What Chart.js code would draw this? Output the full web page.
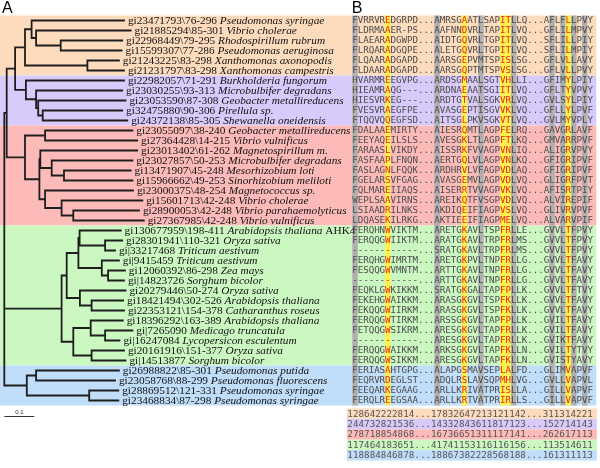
<!DOCTYPE html>
<html><head><meta charset="utf-8">
<script src="https://cdn.jsdelivr.net/npm/chart.js@4/dist/chart.umd.min.js"></script>
<style>html,body{margin:0;padding:0;background:#fff;}canvas{display:block;}</style>
</head><body>
<canvas id="c" width="600" height="468"></canvas>
<script>
// ---------- data ----------
const leafIds = [
 'gi23471793\\76-296','gi21885294\\85-301','gi22968449\\79-295','gi15599307\\77-286','gi21243225\\83-298','gi21231797\\83-298',
 'gi22982057\\71-291','gi23030255\\93-313','gi23053590\\87-308','gi32475880\\90-306','gi24372138\\85-305',
 'gi23055097\\38-240','gi27364428\\14-215','gi23013402\\61-262','gi23027857\\50-253','gi13471907\\45-248','gi15966662\\49-253','gi23000375\\48-254','gi15601713\\42-248','gi28900053\\42-248','gi27367985\\42-248',
 'gi130677959\\198-411','gi28301941\\110-321','gi|33217468','gi|9415459','gi12060392\\86-298','gi|14823726','gi20279446\\50-274','gi18421494\\302-526','gi22353121\\154-378','gi18396292\\163-389','gi|7265090','gi|16247084','gi20161916\\151-377','gi|14513877',
 'gi26988822\\85-301','gi23058768\\88-299','gi28869512\\121-331','gi23468834\\87-298'
];
const leafSpecies = [
 'Pseudomonas syringae','Vibrio cholerae','Rhodospirillum rubrum','Pseudomonas aeruginosa','Xanthomonas axonopodis','Xanthomonas campestris',
 'Burkholderia fungorum','Microbulbifer degradans','Geobacter metallireducens','Pirellula sp.','Shewanella oneidensis',
 'Geobacter metallireducens','Vibrio vulnificus','Magnetospirillum m.','Microbulbifer degradans','Mesorhizobium loti','Sinorhizobium meliloti','Magnetococcus sp.','Vibrio cholerae','Vibrio parahaemolyticus','Vibrio vulnificus',
 'Arabidopsis thaliana','Oryza sativa','Triticum aestivum','Triticum aestivum','Zea mays','Sorghum bicolor','Oryza sativa','Arabidopsis thaliana','Catharanthus roseus','Arabidopsis thaliana','Medicago truncatula','Lycopersicon esculentum','Oryza sativa','Sorghum bicolor',
 'Pseudomonas putida','Pseudomonas fluorescens','Pseudomonas syringae','Pseudomonas syringae'
];
const leafExtra = leafSpecies.map((s, i) => i === 21 ? ' AHK4' : '');
const tipDepth = [
 0.402,0.424,0.396,0.394,0.385,0.402,
 0.402,0.396,0.407,0.396,0.413,
 0.430,0.446,0.446,0.430,0.424,0.430,0.432,0.463,0.452,0.468,
 0.391,0.396,0.372,0.385,0.405,0.402,0.407,0.399,0.402,0.398,0.430,0.387,0.402,0.407,
 0.385,0.372,0.383,0.383
];
const nodeChildren = [
 ['L2','L3'],['L1','N0'],['L0','N1'],['L4','L5'],['N2','N3'],
 ['L9','L10'],['L8','N5'],['L7','N6'],['L6','N7'],['N4','N8'],
 ['L11','L12'],['L15','L16'],['L14','N11'],['L13','N12'],['L19','L20'],['L18','N14'],['L17','N15'],['N13','N16'],['N10','N17'],['N9','N18'],
 ['L22','L23'],['L21','N20'],['L25','L26'],['L24','N22'],['N21','N23'],['L28','L29'],['L27','N25'],['N24','N26'],
 ['L31','L32'],['L30','N28'],['L33','L34'],['N29','N30'],['N27','N31'],
 ['L35','L36'],['L37','L38'],['N33','N34'],
 ['N19','N32','N35']
];
const nodeDepth = [
 0.188,0.106,0.091,0.277,0.069,
 0.128,0.113,0.106,0.072,0.036,
 0.136,0.199,0.158,0.120,0.230,0.191,0.136,0.117,0.069,0.008,
 0.336,0.251,0.346,0.325,0.247,0.291,0.252,0.208,
 0.336,0.288,0.291,0.230,0.191,
 0.106,0.283,0.075,
 0
];
const groupSizes = [6,5,10,14,4];
const groupColors = ['#fddbbd','#d8cbfb','#fcbbb9','#cbf7c1','#c0ddf9'];
const alignment = [
 'FVRRVREDGRPD...AMRSGAATLSAPITLLQ...AFLFLLPVY',
 'FLDRMAAER-PS...AAFNNDVRLTAPITLVQ...GFLILMPVY',
 'FLAEARADGWPD...AIDTGQVRLTGPITLVQ...SFLILLPIY',
 'FLRQARADGQPE...ALETGQVRLTGPITLVQ...SFLILMPIY',
 'FLQAARADGAPD...AARSGEPVMTSPISLSG...GFLVLLAVY',
 'FLDAARADGAPD...AARSGQPTMTSPVSLSG...GFLVLLPVY',
 'HVARMREEGVPG...ARDSGMAALSGTVHLLI...GFIMYLPIY',
 'HIEAMRAQG---...ARDNAEAATSGIITLVQ...GFLTYVPVY',
 'HIESVRKEG---...ARDTGTVALSGKVRLVQ...GVLSYLPIY',
 'FVESVRAEGFPE...AVASGEPTISGVVKLVQ...GFLLYLPVF',
 'FTQQVQQEGFSD...AITSGLPKVSGKVTLVQ...GVLMYVPLY',
 'FDALAAEMIRTY...AIESRQMTLAGPFELRQ...GAVGRLAVF',
 'FEEYAQEILSLS...AVESGKLTLAGPFTLKQ...GMVARRPVF',
 'FARAASLVIKDY...AISSRKFVVAGPVNLIQ...ALIGRVPVY',
 'FASFAAPLFNQN...AERTGQLVLAGPVNLKQ...GFIGRIPVF',
 'FASLAGNLFQQK...ARDHRVLVFAGPVDLAQ...GFIGRIPVF',
 'FGELARSVFGAG...AVASGEMVLAGPVDLVQ...GLIGRFPVT',
 'FQLMAREIIAQS...AISERRTVVAGPVKLVQ...AFISRTPIY',
 'WEPLSAAVIRNS...AREIKQTFVSGPVDLVQ...ALVIREPIF',
 'LSIAADRILNKS...AKDIQEIFIAGPVSLVQ...GLIVRVPVF',
 'LDQASEKILRKG...AKTIEEIFIAGPMELVQ...ALVARVPIF',
 'FERQHNWVIKTM...ARETGKAVLTSPFRLLE...GVVLTFPVY',
 'FERQQGWIIKTM...ARATGKAVLTRPFRLMS...GVVLTFPVY',
 '------------...SRATGKAVLTRPFRLMS...GVVLTFPVY',
 'FERQHGWIMRTM...ARETGKPVLTNPFRLLG...GVVLTFAVY',
 'FESQQGWVMNTM...ARTTGKAVLTNPFRLLG...GVVLTFAVY',
 '------------...ARTTGKAVLTNPFRLLG...GVVLTFAVY',
 'FEQKLGWKIKKM...SRATGKGALTAPFPLLK...GVVLTFTVY',
 'FEKEHGWAIKKM...ARASGKGVLTSPFKLLK...GVVLTFAVY',
 'FEKQQGWIIRKM...ARASGKGVLTSPFKLLK...GVVLTFAVY',
 'FERQQGWTIRKM...ARSSGKGVLTAPFPLLK...GVILTFAVY',
 'FETQQGWSIKRM...ARESGKGVLTAPFRLLK...GVILTFAVY',
 '------------...ARESGKGVLTAPFRLLK...GVIKTFAVY',
 'FERQQGWAIKKM...ARKSGKGVLTAPFKLLN...GVILTYTVY',
 'FERQQGWSIKKM...ARESGKGVLTAPFKLLN...GVISTYAVY',
 'FERIASAHTGPG...ALAPGSMAVSEPLALFD...GLIMVAPVF',
 'FEQRVRDEGLST...ADQLRSLAVSQPMHLVG...GVLLVAPVL',
 'FEEQARKEGAAG...ARLLKRIVATPRISLLA...GILLVAPVF',
 'FERQLREEGSAA...ARLLKRTVATPRIRLLS...GILLVAPVF'
];
const grayCols = [0,15,23,29,36,38,40,42];
const yellowCols = [6,20,27,28,39];
const conservation = [
 '128642222814...17832647213121142...311314221',
 '244732821536...14332843611817123...152714143',
 '278718854868...16736651311117141...262617113',
 '117464183651...41741153116116156...113514611',
 '118884846878...18867382228568188...161311113'
];
const scaleBarLength = 0.1;
const scaleBarLabel = '0.1';

// ---------- tree geometry from data ----------
const pos = {};
leafIds.forEach((_, i) => { pos['L' + i] = { d: tipDepth[i], y: i }; });
nodeChildren.forEach((ch, k) => {
  const ys = ch.map(c => pos[c].y);
  pos['N' + k] = { d: nodeDepth[k], y: (ys[0] + ys[ys.length - 1]) / 2 };
});
const lineBase = { type: 'scatter', showLine: true, pointRadius: 0, borderColor: '#1e1e1e', borderWidth: 1.8,
  fill: false, tension: 0, borderJoinStyle: 'miter', borderCapStyle: 'butt', xAxisID: 'x', yAxisID: 'y', clip: false };
const datasets = [];
nodeChildren.forEach((ch, k) => {
  const n = pos['N' + k], a = pos[ch[0]], b = pos[ch[ch.length - 1]];
  datasets.push({ ...lineBase, data: [{ x: a.d, y: a.y }, { x: n.d, y: a.y }, { x: n.d, y: b.y }, { x: b.d, y: b.y }] });
  ch.slice(1, -1).forEach(c => {
    const m = pos[c];
    datasets.push({ ...lineBase, data: [{ x: n.d, y: m.y }, { x: m.d, y: m.y }] });
  });
});
const nRows = leafIds.length;
const scaleBarRow = nRows + 0.6;
datasets.push({ ...lineBase, borderWidth: 1, borderColor: '#333', data: [{ x: 0, y: scaleBarRow }, { x: scaleBarLength, y: scaleBarRow }] });

// ---------- drawing plugin (text, bands, column shading) ----------
const MONO = '"DejaVu Sans Mono", "Liberation Mono", monospace';
const SERIF = '"Liberation Serif", "Times New Roman", serif';
const LABEL_PX = 11.3;
const plugin = {
  id: 'figure',
  beforeDatasetsDraw(chart) {
    const ctx = chart.ctx, y = chart.scales.y, xa = chart.scales.xa;
    ctx.save();
    const right = xa.getPixelForValue(44.1);
    let start = 0;
    groupSizes.forEach((n, g) => {
      const t = y.getPixelForValue(start - 0.5), b = y.getPixelForValue(start + n - 0.5);
      ctx.fillStyle = groupColors[g];
      ctx.fillRect(0, t, right, b - t);
      start += n;
    });
    const t0 = y.getPixelForValue(-0.5), b0 = y.getPixelForValue(nRows - 0.5);
    grayCols.forEach(c => {
      const l = xa.getPixelForValue(c - 0.5), r = xa.getPixelForValue(c + 0.5);
      ctx.fillStyle = '#b0b0b0'; ctx.fillRect(l, t0, r - l, b0 - t0);
    });
    yellowCols.forEach(c => {
      const l = xa.getPixelForValue(c - 0.5), r = xa.getPixelForValue(c + 0.5);
      ctx.fillStyle = '#fff24a'; ctx.fillRect(l, t0, r - l, b0 - t0);
    });
    ctx.restore();
  },
  afterDatasetsDraw(chart) {
    const ctx = chart.ctx, x = chart.scales.x, y = chart.scales.y, xa = chart.scales.xa;
    ctx.save();
    // leaf labels
    ctx.textBaseline = 'middle'; ctx.textAlign = 'left'; ctx.fillStyle = '#111';
    leafIds.forEach((id, i) => {
      let px = x.getPixelForValue(tipDepth[i]) + 3;
      const py = y.getPixelForValue(i) + 0.5;
      ctx.font = LABEL_PX + 'px ' + SERIF;
      ctx.fillText(id + ' ', px, py);
      px += ctx.measureText(id + ' ').width;
      ctx.font = 'italic ' + LABEL_PX + 'px ' + SERIF;
      ctx.fillText(leafSpecies[i], px, py);
      if (leafExtra[i]) {
        px += ctx.measureText(leafSpecies[i]).width;
        ctx.font = LABEL_PX + 'px ' + SERIF;
        ctx.fillText(leafExtra[i], px, py);
      }
    });
    // alignment
    ctx.textAlign = 'center';
    ctx.font = '9.2px ' + MONO;
    alignment.forEach((row, i) => {
      const py = y.getPixelForValue(i) + 0.5;
      for (let c = 0; c < row.length; c++) {
        ctx.fillStyle = yellowCols.includes(c) ? '#ea2a18' : '#4d4d4d';
        ctx.fillText(row[c], xa.getPixelForValue(c), py);
      }
    });
    // conservation rows
    const cTop = nRows - 0.2, cH = 1.04, step = 1.02, c0 = -0.9;
    const cl = xa.getPixelForValue(c0 - 0.6), cr = xa.getPixelForValue(44.2);
    conservation.forEach((row, k) => {
      const t = y.getPixelForValue(cTop + k * cH), b = y.getPixelForValue(cTop + (k + 1) * cH);
      ctx.fillStyle = groupColors[k];
      ctx.fillRect(cl, t, cr - cl, b - t);
      ctx.fillStyle = '#555';
      for (let c = 0; c < row.length; c++) {
        ctx.fillText(row[c], xa.getPixelForValue(c0 + c * step), (t + b) / 2 + 0.5);
      }
    });
    // scale bar label
    ctx.fillStyle = '#333';
    ctx.font = '6px "Liberation Sans", Arial, sans-serif';
    ctx.textBaseline = 'bottom';
    ctx.fillText(scaleBarLabel, x.getPixelForValue(scaleBarLength / 2), y.getPixelForValue(scaleBarRow) - 1);
    // panel letters
    ctx.fillStyle = '#000';
    ctx.textAlign = 'left'; ctx.textBaseline = 'top';
    ctx.font = '16px "Liberation Sans", Arial, sans-serif';
    ctx.fillText('A', 2, 1);
    ctx.fillText('B', xa.getPixelForValue(-0.6), 1);
    ctx.restore();
  }
};

// ---------- chart ----------
const W = 600, H = 468;
const treePxPerUnit = 300, treeOriginPx = 4.3;
const colPx = 5.47, col0Px = 355.04;
const rowPx = 10, row0Px = 20.5;
new Chart(document.getElementById('c'), {
  type: 'scatter',
  data: { datasets },
  options: {
    responsive: false, animation: false, events: [],
    layout: { padding: 0 },
    plugins: { legend: { display: false }, tooltip: { enabled: false }, title: { display: false } },
    scales: {
      x: { type: 'linear', display: false, min: -treeOriginPx / treePxPerUnit, max: (W - treeOriginPx) / treePxPerUnit },
      xa: { type: 'linear', display: false, min: -col0Px / colPx, max: (W - col0Px) / colPx },
      y: { type: 'linear', display: false, reverse: true, min: -row0Px / rowPx, max: (H - row0Px) / rowPx }
    }
  },
  plugins: [plugin]
});
</script>
</body></html>
